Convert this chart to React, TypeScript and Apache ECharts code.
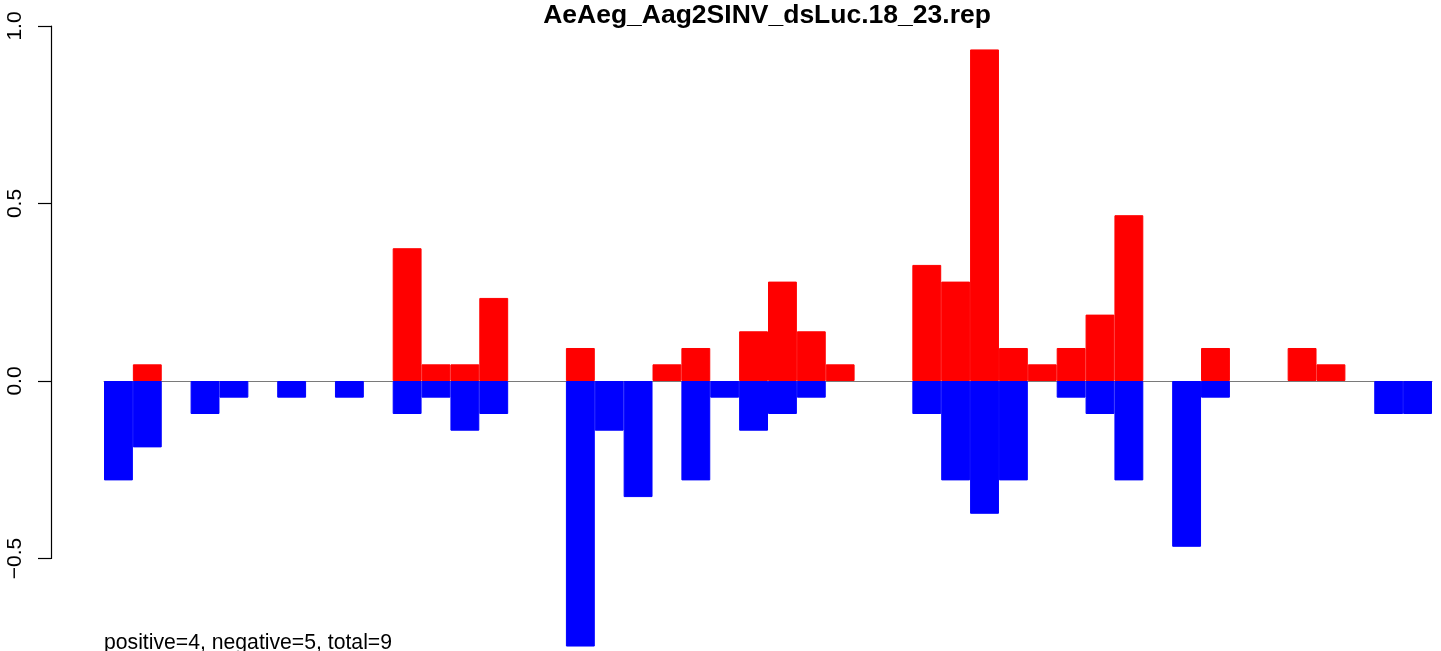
import React, { useEffect, useRef } from "react";
import * as echarts from "echarts";

// 46 positions along the x axis
const categories = Array.from({ length: 46 }, (_, i) => String(i + 1));

// positive (red) bar heights
const redValues: (number | null)[] = [
  null, 0.047, null, null, null, null, null, null, null, null,
  0.374, 0.047, 0.047, 0.234, null, null, 0.093, null, null, 0.047,
  0.093, null, 0.14, 0.28, 0.14, 0.047, null, null, 0.327, 0.28,
  0.934, 0.093, 0.047, 0.093, 0.187, 0.467, null, null, 0.093, null,
  null, 0.093, 0.047, null, null, null,
];

// negative (blue) bar heights
const blueValues: (number | null)[] = [
  -0.28, -0.187, null, -0.093, -0.047, null, -0.047, null, -0.047, null,
  -0.093, -0.047, -0.14, -0.093, null, null, -0.748, -0.14, -0.327, null,
  -0.28, -0.047, -0.14, -0.093, -0.047, null, null, null, -0.093, -0.28,
  -0.374, -0.28, null, -0.047, -0.093, -0.28, null, -0.467, -0.047, null,
  null, null, null, null, -0.093, -0.093,
];

const yTickMin = -0.5;
const yTickMax = 1.0;
const yTickStep = 0.5;

const titleText = "AeAeg_Aag2SINV_dsLuc.18_23.rep";
const footerText = "positive=4, negative=5, total=9";

export default function App() {
  const ref = useRef<HTMLDivElement>(null);

  useEffect(() => {
    if (!ref.current) return;
    const chart = echarts.init(ref.current, null, { renderer: "svg" });
    const font = "'Liberation Sans', Arial, Helvetica, sans-serif";
    chart.setOption({
      animation: false,
      textStyle: { fontFamily: font },
      grid: [
        { left: 104, width: 1328, top: 26, height: 621.25 },
        { left: 51, width: 10, top: 26, height: 532.5 },
      ],
      xAxis: [
        {
          type: "category",
          gridIndex: 0,
          data: categories,
          boundaryGap: true,
          axisLine: { show: true, onZero: true, lineStyle: { color: "#7a7a7a", width: 1 } },
          axisTick: { show: false },
          axisLabel: { show: false },
          splitLine: { show: false },
        },
        { type: "value", gridIndex: 1, min: 0, max: 1, show: false },
      ],
      yAxis: [
        { type: "value", gridIndex: 0, min: -0.75, max: 1, show: false },
        {
          type: "value",
          gridIndex: 1,
          min: yTickMin,
          max: yTickMax,
          interval: yTickStep,
          position: "left",
          axisLine: { show: true, lineStyle: { color: "#000", width: 1.2 } },
          axisTick: { show: true, length: 13, lineStyle: { color: "#000", width: 1.2 } },
          axisLabel: {
            rotate: 90,
            margin: 27,
            fontSize: 21,
            color: "#000",
            fontFamily: font,
            formatter: (v: number) => v.toFixed(1).replace("-", "\u2212"),
          },
          splitLine: { show: false },
        },
      ],
      series: [
        {
          type: "bar",
          xAxisIndex: 0,
          yAxisIndex: 0,
          data: redValues,
          itemStyle: { color: "#ff0000", borderColor: "#ff0000", borderWidth: 1 },
          barWidth: "100%",
          barGap: "-100%",
          barCategoryGap: 0,
        },
        {
          type: "bar",
          xAxisIndex: 0,
          yAxisIndex: 0,
          data: blueValues,
          itemStyle: { color: "#0000ff", borderColor: "#0000ff", borderWidth: 1 },
          barWidth: "100%",
          barGap: "-100%",
          barCategoryGap: 0,
        },
      ],
      graphic: [
        {
          type: "text",
          x: 767,
          y: 13.5,
          style: {
            text: titleText,
            font: `bold 26.5px ${font}`,
            fill: "#000",
            textAlign: "center",
            textVerticalAlign: "middle",
          },
        },
        {
          type: "text",
          x: 104,
          y: 641,
          style: {
            text: footerText,
            font: `21.2px ${font}`,
            fill: "#000",
            textAlign: "left",
            textVerticalAlign: "middle",
          },
        },
      ],
    });
    return () => chart.dispose();
  }, []);

  return (
    <div
      ref={ref}
      style={{ position: "fixed", left: 0, top: 0, width: 1441, height: 651 }}
    />
  );
}
